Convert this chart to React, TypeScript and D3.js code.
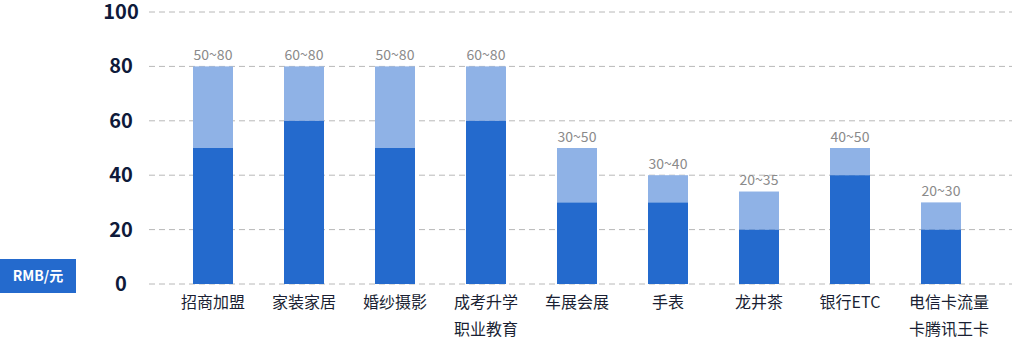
import React from "react";
import * as d3 from "d3";

const categories: string[][] = [
  ["招商加盟"],
  ["家装家居"],
  ["婚纱摄影"],
  ["成考升学", "职业教育"],
  ["车展会展"],
  ["手表"],
  ["龙井茶"],
  ["银行ETC"],
  ["电信卡流量", "卡腾讯王卡"],
];
const lowValues = [50, 60, 50, 60, 30, 30, 20, 40, 20];
const highValues = [80, 80, 80, 80, 50, 40, 34, 50, 30];
const rangeLabels = ["50~80", "60~80", "50~80", "60~80", "30~50", "30~40", "20~35", "40~50", "20~30"];
const yTicks = [0, 20, 40, 60, 80, 100];
const unitLabel = "RMB/元";

const W = 1012;
const H = 339;
const FONT = "'Noto Sans CJK SC', 'Noto Sans', sans-serif";
const LABEL_BOX = 64;

let ctx: CanvasRenderingContext2D | null = null;
function measure(text: string, size: number): number {
  if (typeof document === "undefined") return text.length * size;
  if (!ctx) ctx = document.createElement("canvas").getContext("2d");
  if (!ctx) return text.length * size;
  ctx.font = `${size}px ${FONT}`;
  return ctx.measureText(text).width;
}

export default function App() {
  const y = d3.scaleLinear().domain([0, 100]).range([284, 12]);
  const x = d3
    .scaleBand<number>()
    .domain(categories.map((_, i) => i))
    .range([167.5, 986.5])
    .paddingInner(0.56)
    .paddingOuter(0.28);
  const bw = 40;
  const cx = (i: number) => (x(i) as number) + x.bandwidth() / 2;

  return (
    <svg
      width={W}
      height={H}
      style={{ position: "absolute", left: 0, top: 0, display: "block" }}
    >
      <rect x={0} y={0} width={W} height={H} fill="#fff" />
      {yTicks.map((t) => (
        <g key={t}>
          <line
            x1={149}
            x2={W}
            y1={y(t)}
            y2={y(t)}
            stroke="#b8b8b8"
            strokeWidth={1}
            strokeDasharray="6,4"
          />
          <text
            x={121}
            y={y(t) + 7}
            textAnchor="middle"
            fontFamily={FONT}
            fontWeight={700}
            fontSize={20}
            fill="#0f1a3a"
          >
            {t}
          </text>
        </g>
      ))}
      {categories.map((c, i) => (
        <g key={i}>
          <rect
            x={cx(i) - bw / 2}
            y={y(highValues[i])}
            width={bw}
            height={y(lowValues[i]) - y(highValues[i])}
            fill="#8fb2e6"
          />
          <rect
            x={cx(i) - bw / 2}
            y={y(lowValues[i])}
            width={bw}
            height={y(0) - y(lowValues[i])}
            fill="#246acd"
          />
          <text
            x={cx(i)}
            y={y(highValues[i]) - 6.5}
            textAnchor="middle"
            fontFamily={FONT}
            fontSize={14}
            fill="#8a8a8a"
          >
            {rangeLabels[i]}
          </text>
          {c.map((line, j) => {
            const w = measure(line, 16);
            const left = cx(i) - Math.min(w, LABEL_BOX) / 2;
            return (
              <text
                key={j}
                x={left}
                y={308 + j * 27}
                textAnchor="start"
                fontFamily={FONT}
                fontSize={16}
                fill="#1a1f33"
              >
                {line}
              </text>
            );
          })}
        </g>
      ))}
      <rect x={0} y={259} width={76} height={34} fill="#246acd" />
      <text
        x={38}
        y={281}
        textAnchor="middle"
        fontFamily={FONT}
        fontWeight={700}
        fontSize={14}
        fill="#fff"
      >
        {unitLabel}
      </text>
    </svg>
  );
}
